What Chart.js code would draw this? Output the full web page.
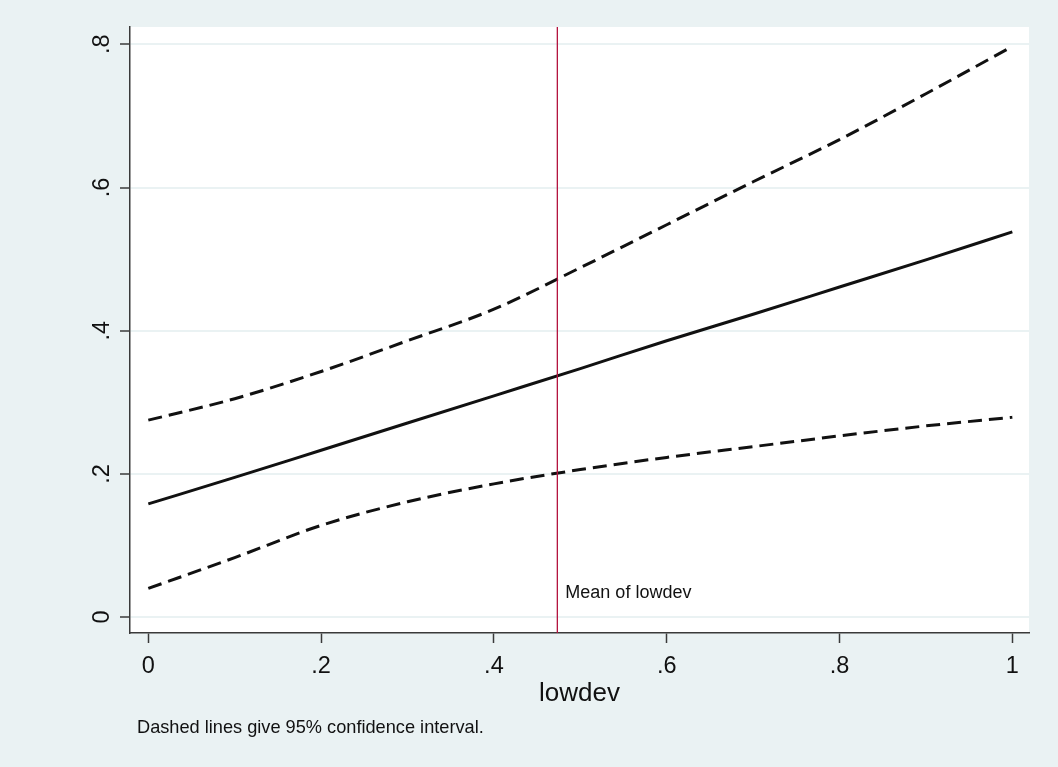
<!DOCTYPE html>
<html>
<head>
<meta charset="utf-8">
<script src="https://cdn.jsdelivr.net/npm/chart.js@4/dist/chart.umd.min.js"></script>
<style>
  html, body { margin: 0; padding: 0; background: #EAF2F3; }
  #wrap { width: 1058px; height: 767px; position: relative; }
</style>
</head>
<body>
<div id="wrap"><canvas id="c"></canvas></div>
<script>
// Predicted value of the outcome over lowdev, with 95% confidence bounds
const lowdev = [0, 0.1, 0.2, 0.3, 0.4, 0.5, 0.6, 0.7, 0.8, 0.9, 1.0];
const fitted = [0.158, 0.195, 0.233, 0.271, 0.309, 0.347, 0.386, 0.423, 0.461, 0.499, 0.538];
const upperCI = [0.275, 0.305, 0.343, 0.386, 0.430, 0.488, 0.548, 0.608, 0.667, 0.731, 0.797];
const lowerCI = [0.040, 0.083, 0.128, 0.161, 0.186, 0.206, 0.223, 0.238, 0.253, 0.267, 0.279];
const meanLowdev = 0.4734;

const xTicks = [0, 0.2, 0.4, 0.6, 0.8, 1];
const xTickLabels = ['0', '.2', '.4', '.6', '.8', '1'];
const yTicks = [0, 0.2, 0.4, 0.6, 0.8];
const yTickLabels = ['0', '.2', '.4', '.6', '.8'];

const xRange = [-0.0212, 1.0193];
const yRange = [-0.0223, 0.8242];

const FONT = '"Liberation Sans", Arial, Helvetica, sans-serif';
const INK = '#111111';
const AXIS = '#3a3a3a';
const BG = '#EAF2F3';

const pts = ys => lowdev.map((x, i) => ({ x: x, y: ys[i] }));

const backdrop = {
  id: 'backdrop',
  beforeDraw(chart) {
    const { ctx, chartArea: a } = chart;
    ctx.save();
    ctx.fillStyle = BG;
    ctx.fillRect(0, 0, chart.width, chart.height);
    ctx.fillStyle = '#ffffff';
    ctx.fillRect(a.left, a.top, a.right - a.left, a.bottom - a.top);
    ctx.restore();
  }
};

const labels = {
  id: 'labels',
  afterDraw(chart) {
    const { ctx, chartArea: a } = chart;
    const xs = chart.scales.x, ys = chart.scales.y;
    ctx.save();
    ctx.fillStyle = INK;

    // x tick labels
    ctx.font = '23.5px ' + FONT;
    ctx.textAlign = 'center';
    ctx.textBaseline = 'alphabetic';
    xTicks.forEach((v, i) => {
      ctx.fillText(xTickLabels[i], xs.getPixelForValue(v), a.bottom + 40);
    });

    // y tick labels, rotated to read upward
    yTicks.forEach((v, i) => {
      ctx.save();
      ctx.translate(a.left - 21, ys.getPixelForValue(v));
      ctx.rotate(-Math.PI / 2);
      ctx.textAlign = 'center';
      ctx.fillText(yTickLabels[i], 0, 0);
      ctx.restore();
    });

    // x axis title
    ctx.font = '26px ' + FONT;
    ctx.textAlign = 'center';
    ctx.fillText('lowdev', (a.left + a.right) / 2, a.bottom + 68);

    // reference line label
    ctx.font = '18px ' + FONT;
    ctx.textAlign = 'left';
    ctx.fillText('Mean of lowdev', xs.getPixelForValue(meanLowdev) + 8, ys.getPixelForValue(0) - 19.5);

    // note
    ctx.font = '18.2px ' + FONT;
    ctx.fillText('Dashed lines give 95% confidence interval.', 137, 733);
    ctx.restore();
  }
};

new Chart(document.getElementById('c'), {
  type: 'line',
  data: {
    datasets: [
      {
        label: 'Upper bound',
        data: pts(upperCI),
        borderColor: INK, borderWidth: 3, borderDash: [14, 7],
        pointRadius: 0, fill: false, cubicInterpolationMode: 'monotone', order: 3
      },
      {
        label: 'Fitted',
        data: pts(fitted),
        borderColor: INK, borderWidth: 3,
        pointRadius: 0, fill: false, cubicInterpolationMode: 'monotone', order: 2
      },
      {
        label: 'Lower bound',
        data: pts(lowerCI),
        borderColor: INK, borderWidth: 3, borderDash: [14, 7],
        pointRadius: 0, fill: false, cubicInterpolationMode: 'monotone', order: 3
      },
      {
        label: 'Mean of lowdev',
        data: [{ x: meanLowdev, y: yRange[0] }, { x: meanLowdev, y: yRange[1] }],
        borderColor: '#b3123d', borderWidth: 1.3,
        pointRadius: 0, fill: false, order: 1
      }
    ]
  },
  options: {
    responsive: true,
    maintainAspectRatio: false,
    animation: false,
    events: [],
    layout: { padding: { top: 27, right: 29, left: 0, bottom: 0 } },
    plugins: { legend: { display: false }, tooltip: { enabled: false } },
    scales: {
      x: {
        type: 'linear',
        min: xRange[0], max: xRange[1],
        afterBuildTicks: s => { s.ticks = xTicks.map(v => ({ value: v })); },
        afterFit: s => { s.height = 134; },
        ticks: { display: false },
        grid: {
          drawOnChartArea: false, drawTicks: true, tickLength: 10,
          tickColor: AXIS, tickWidth: 1.5
        },
        border: { display: true, color: AXIS, width: 1.5 }
      },
      y: {
        type: 'linear',
        min: yRange[0], max: yRange[1],
        afterBuildTicks: s => { s.ticks = yTicks.map(v => ({ value: v })); },
        afterFit: s => { s.width = 130; },
        ticks: { display: false },
        grid: {
          color: BG, lineWidth: 2, drawTicks: true, tickLength: 10,
          tickColor: AXIS, tickWidth: 1.5
        },
        border: { display: true, color: AXIS, width: 1.5 }
      }
    }
  },
  plugins: [backdrop, labels]
});
</script>
</body>
</html>
